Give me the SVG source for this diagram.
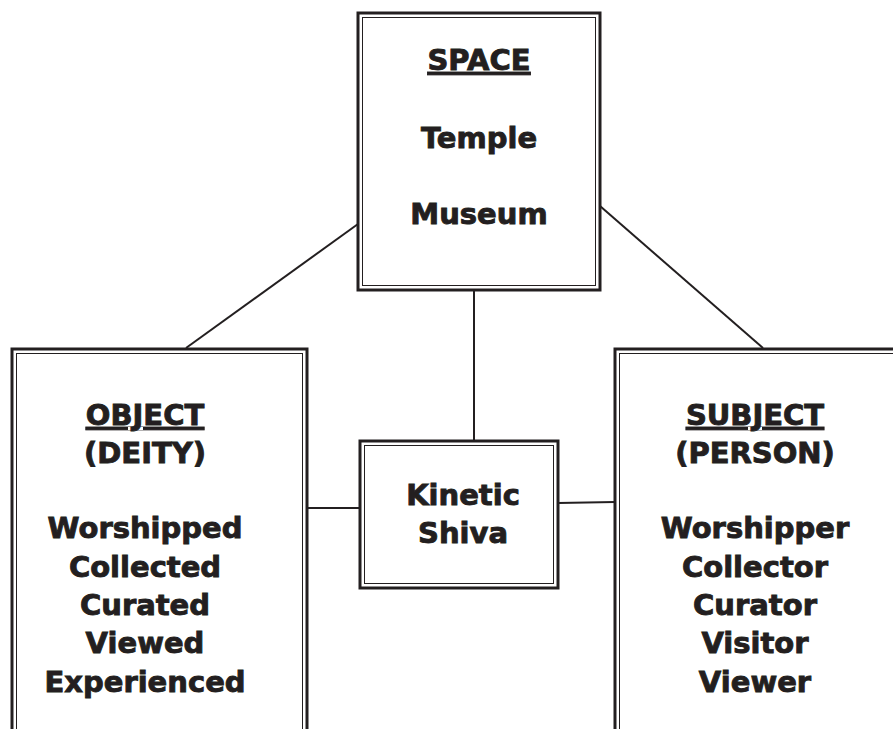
<svg xmlns="http://www.w3.org/2000/svg" width="893" height="729" viewBox="0 0 893 729">
<style>
.o{fill:#fff;stroke:#231f20;stroke-width:3}
.i{fill:none;stroke:#231f20;stroke-width:1}
.c{stroke:#231f20;stroke-width:2;fill:none}
text{font-family:"DejaVu Sans","Liberation Sans",sans-serif;font-weight:bold;font-size:29px;fill:#231f20;stroke:#231f20;stroke-width:0.9;text-anchor:middle}
.u{text-decoration:underline}
</style>
<rect width="893" height="729" fill="#fff"/>
<g id="connectors">
<line class="c" x1="358" y1="224" x2="186" y2="348"/>
<line class="c" x1="600" y1="206" x2="763" y2="348"/>
<line class="c" x1="474" y1="290" x2="474" y2="441"/>
<line class="c" x1="307" y1="508" x2="360" y2="508"/>
<line class="c" x1="558" y1="503" x2="615" y2="502"/>
</g>
<g id="space">
<rect class="o" x="358" y="13" width="242" height="277"/>
<rect class="i" x="362.5" y="17.5" width="233" height="268"/>
<text x="479" y="70" class="u">SPACE</text>
<text x="479" y="148">Temple</text>
<text x="479" y="224">Museum</text>
</g>
<g id="object">
<rect class="o" x="12" y="349" width="295" height="400"/>
<rect class="i" x="16.5" y="353.5" width="286" height="400"/>
<text x="145" y="425" class="u">OBJECT</text>
<text x="145" y="463">(DEITY)</text>
<text x="145" y="538">Worshipped</text>
<text x="145" y="577">Collected</text>
<text x="145" y="615">Curated</text>
<text x="145" y="653">Viewed</text>
<text x="145" y="692">Experienced</text>
</g>
<g id="subject">
<rect class="o" x="615" y="349" width="300" height="400"/>
<rect class="i" x="619.5" y="353.5" width="300" height="400"/>
<text x="755" y="425" class="u">SUBJECT</text>
<text x="755" y="463">(PERSON)</text>
<text x="755" y="538">Worshipper</text>
<text x="755" y="577">Collector</text>
<text x="755" y="615">Curator</text>
<text x="755" y="653">Visitor</text>
<text x="755" y="692">Viewer</text>
</g>
<g id="kinetic">
<rect class="o" x="360" y="441" width="198" height="147"/>
<rect class="i" x="364.5" y="445.5" width="189" height="138"/>
<text x="463" y="505">Kinetic</text>
<text x="463" y="543">Shiva</text>
</g>
</svg>
